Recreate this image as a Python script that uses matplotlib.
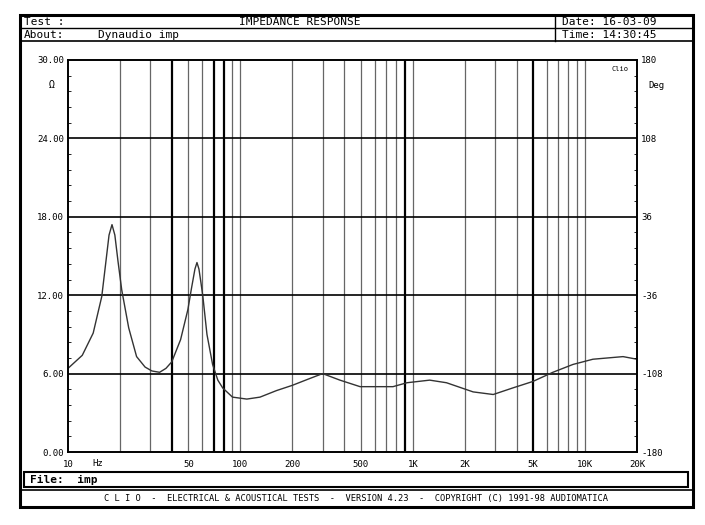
import matplotlib
matplotlib.use("Agg")
import matplotlib.pyplot as plt
from matplotlib.patches import Rectangle
from matplotlib.lines import Line2D

freq = [10, 12.1, 14, 15.7, 16.5, 17.3, 18, 18.7, 19.5, 20.5, 22.5, 25, 28, 30.7, 34, 37, 40, 45, 49.6, 52, 54.5, 56, 57.5, 59, 60.6, 64, 69, 74, 79, 90, 109, 130, 162, 200, 250, 300, 378,
        495, 768, 925, 1254, 1570, 2240, 2930, 3800, 4980, 6500, 8500, 11100, 16600, 20000]
imp = [6.4, 7.4, 9.1, 11.9, 14.3, 16.6, 17.4, 16.6, 14.6, 12.4, 9.5, 7.3, 6.5, 6.2, 6.1, 6.4, 6.9, 8.6, 10.9, 12.5, 14.0, 14.5, 14.0, 13.0, 11.9, 9.0, 6.7, 5.5, 4.9, 4.2, 4.05, 4.2, 4.7, 5.1, 5.6, 6.0, 5.5,
       5.0, 5.0, 5.3, 5.5, 5.3, 4.6, 4.4, 4.9, 5.4, 6.1, 6.7, 7.1, 7.3, 7.1]
xticks = [10, 50, 100, 200, 500, 1000, 2000, 5000, 10000, 20000]
xlabels = ["10", "50", "100", "200", "500", "1K", "2K", "5K", "10K", "20K"]
yticks = [0, 6, 12, 18, 24, 30]
ylabels = ["0.00", "6.00", "12.00", "18.00", "24.00", "30.00"]
rlabels = ["-180", "-108", "-36", "36", "108", "180"]
thick = [40, 70, 80, 900, 5000]

W, H = 705, 525
fig = plt.figure(figsize=(7.05, 5.25), dpi=100)
mono = "DejaVu Sans Mono"

def fx(px): return px / W
def fy(py): return 1 - py / H

ov = fig.add_axes([0, 0, 1, 1])
ov.set_xlim(0, W); ov.set_ylim(H, 0); ov.axis("off")
ov.add_patch(Rectangle((20, 15), 673, 492, fill=False, lw=2.2, color="black"))
ov.add_line(Line2D([20, 693], [28, 28], lw=1, color="black"))
ov.add_line(Line2D([20, 693], [41, 41], lw=1.2, color="black"))
ov.add_line(Line2D([555, 555], [15, 41], lw=1, color="black"))
ov.add_patch(Rectangle((24, 472), 664, 15, fill=False, lw=1.5, color="black"))
ov.add_line(Line2D([20, 693], [490, 490], lw=1.2, color="black"))
fs = 8
ov.text(24, 22, "Test :", fontsize=fs, family=mono, va="center")
ov.text(300, 22, "IMPEDANCE RESPONSE", fontsize=fs, family=mono, va="center", ha="center")
ov.text(24, 35, "About:", fontsize=fs, family=mono, va="center")
ov.text(98, 35, "Dynaudio imp", fontsize=fs, family=mono, va="center")
ov.text(562, 22, "Date: 16-03-09", fontsize=fs, family=mono, va="center")
ov.text(562, 35, "Time: 14:30:45", fontsize=fs, family=mono, va="center")
ov.text(30, 480, "File:  imp", fontsize=fs, family=mono, va="center", weight="bold")
ov.text(356, 499, "C L I O  -  ELECTRICAL & ACOUSTICAL TESTS  -  VERSION 4.23  -  COPYRIGHT (C) 1991-98 AUDIOMATICA",
        fontsize=6.3, family=mono, va="center", ha="center")
ov.text(52, 85, "Ω", fontsize=7, family=mono, va="center", ha="center")
ov.text(656, 85, "Deg", fontsize=6.5, family=mono, va="center", ha="center")
ov.text(92, 463, "Hz", fontsize=6.5, family=mono, va="center")

ax = fig.add_axes([fx(68), fy(452), (637 - 68) / W, 392 / H])
ax.set_xscale("log")
ax.set_xlim(10, 20000); ax.set_ylim(0, 30)
grid_f = [m * 10 ** d for d in range(1, 5) for m in range(1, 10) if m * 10 ** d <= 20000]
for g in grid_f[1:-1]:
    ax.axvline(g, color="black" if g in thick else "#666666", lw=1.6 if g in thick else 0.9)
for t in yticks[1:-1]:
    ax.axhline(t, color="black", lw=1.2)
ax.plot(freq, imp, color="#333333", lw=1.0)
ax.set_xticks(xticks); ax.set_xticklabels(xlabels, family=mono, fontsize=6.5)
ax.minorticks_off()
ax.set_yticks(yticks); ax.set_yticklabels(ylabels, family=mono, fontsize=6.5)
ax.tick_params(axis="x", length=0, pad=6)
ax.tick_params(axis="y", length=0, pad=3)
ax2 = ax.twinx()
ax2.set_ylim(0, 30)
ax2.set_yticks(yticks); ax2.set_yticklabels(rlabels, family=mono, fontsize=6.5)
ax2.set_yticks([i * 1.2 for i in range(26)], minor=True)
ax.set_yticks([i * 1.2 for i in range(26)], minor=True)
ax.tick_params(axis="y", which="minor", direction="in", length=2.5)
ax2.tick_params(axis="y", which="minor", direction="in", length=2.5)
ax2.tick_params(axis="y", which="major", length=0, pad=3)
for a in (ax, ax2):
    for s in a.spines.values():
        s.set_linewidth(1.2)
ax.text(0.985, 0.985, "Clio", transform=ax.transAxes, fontsize=5, family=mono, ha="right", va="top")
fig.savefig("out.png", dpi=100)
